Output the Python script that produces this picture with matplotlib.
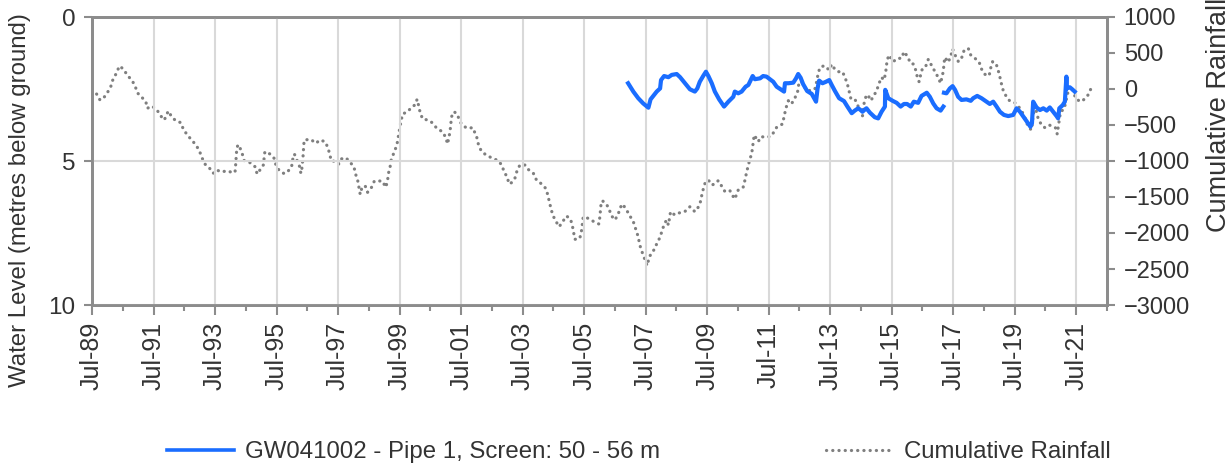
import matplotlib
matplotlib.use("Agg")
import matplotlib.pyplot as plt
import numpy as np
from matplotlib.lines import Line2D
from matplotlib.ticker import MultipleLocator, FixedLocator

plt.rcParams['font.family'] = ['Liberation Sans', 'DejaVu Sans']

# ---------------- data ----------------
tick_years = [1989.5 + 2 * i for i in range(17)]
tick_labels = ["Jul-89", "Jul-91", "Jul-93", "Jul-95", "Jul-97", "Jul-99", "Jul-01", "Jul-03",
               "Jul-05", "Jul-07", "Jul-09", "Jul-11", "Jul-13", "Jul-15", "Jul-17", "Jul-19", "Jul-21"]

rain_year = [1989.65, 1989.76, 1989.87, 1990.00, 1990.11, 1990.16, 1990.30, 1990.39, 1990.52, 1990.65,
             1990.79, 1990.90, 1990.97, 1991.12, 1991.25, 1991.30, 1991.44, 1991.60, 1991.73, 1991.85,
             1991.98, 1992.09, 1992.22, 1992.39, 1992.47, 1992.60, 1992.74, 1992.88, 1992.99, 1993.07,
             1993.17, 1993.31, 1993.44, 1993.55, 1993.72, 1993.88, 1994.04, 1994.15, 1994.17, 1994.20,
             1994.24, 1994.31, 1994.39, 1994.45, 1994.64, 1994.80, 1994.87, 1994.98, 1995.07, 1995.12,
             1995.29, 1995.42, 1995.48, 1995.59, 1995.75, 1995.86, 1995.99, 1996.02, 1996.08, 1996.17,
             1996.26, 1996.29, 1996.33, 1996.35, 1996.37, 1996.38, 1996.40, 1996.61, 1996.78, 1996.91,
             1997.08, 1997.17, 1997.23, 1997.28, 1997.43, 1997.52, 1997.60, 1997.75, 1997.89, 1998.02,
             1998.07, 1998.14, 1998.18, 1998.22, 1998.27, 1998.38, 1998.46, 1998.59, 1998.68, 1998.94,
             1999.05, 1999.11, 1999.13, 1999.19, 1999.22, 1999.30, 1999.38, 1999.44, 1999.47, 1999.51,
             1999.55, 1999.60, 1999.76, 1999.91, 2000.00, 2000.07, 2000.12, 2000.17, 2000.25, 2000.43,
             2000.56, 2000.71, 2000.89, 2001.00, 2001.06, 2001.14, 2001.19, 2001.27, 2001.38, 2001.44,
             2001.53, 2001.70, 2001.88, 2002.01, 2002.06, 2002.15, 2002.31, 2002.46, 2002.60, 2002.71,
             2002.82, 2002.90, 2003.00, 2003.06, 2003.14, 2003.25, 2003.31, 2003.41, 2003.58, 2003.68,
             2003.85, 2003.95, 2004.09, 2004.25, 2004.31, 2004.37, 2004.42, 2004.48, 2004.57, 2004.69,
             2004.80, 2004.93, 2005.06, 2005.12, 2005.20, 2005.36, 2005.42, 2005.47, 2005.63, 2005.82,
             2005.98, 2006.01, 2006.05, 2006.09, 2006.20, 2006.31, 2006.37, 2006.50, 2006.61, 2006.66,
             2006.75, 2006.88, 2006.99, 2007.10, 2007.17, 2007.24, 2007.34, 2007.42, 2007.50, 2007.55,
             2007.62, 2007.72, 2007.80, 2007.88, 2007.97, 2008.04, 2008.11, 2008.18, 2008.24, 2008.31,
             2008.45, 2008.61, 2008.77, 2008.94, 2009.10, 2009.19, 2009.27, 2009.35, 2009.43, 2009.54,
             2009.65, 2009.75, 2009.86, 2009.97, 2010.08, 2010.24, 2010.35, 2010.40, 2010.51, 2010.67,
             2010.73, 2010.78, 2010.84, 2010.89, 2010.95, 2010.98, 2011.03, 2011.16, 2011.25, 2011.43,
             2011.59, 2011.76, 2011.95, 2012.00, 2012.06, 2012.14, 2012.24, 2012.35, 2012.46, 2012.48,
             2012.57, 2012.66, 2012.75, 2012.89, 2013.00, 2013.06, 2013.11, 2013.17, 2013.31, 2013.38,
             2013.47, 2013.55, 2013.60, 2013.76, 2013.90, 2013.98, 2014.06, 2014.11, 2014.17, 2014.28,
             2014.38, 2014.44, 2014.52, 2014.55, 2014.61, 2014.68, 2014.73, 2014.82, 2014.90, 2015.01,
             2015.09, 2015.17, 2015.25, 2015.30, 2015.33, 2015.35, 2015.42, 2015.55, 2015.68, 2015.82,
             2015.90, 2016.02, 2016.11, 2016.20, 2016.28, 2016.33, 2016.39, 2016.44, 2016.50, 2016.61,
             2016.69, 2016.80, 2016.91, 2017.01, 2017.09, 2017.18, 2017.20, 2017.23, 2017.34, 2017.43,
             2017.48, 2017.56, 2017.67, 2017.78, 2017.85, 2017.99, 2018.07, 2018.21, 2018.35, 2018.42,
             2018.53, 2018.67, 2018.71, 2018.78, 2018.89, 2018.96, 2019.02, 2019.07, 2019.13, 2019.23,
             2019.34, 2019.50, 2019.61, 2019.69, 2019.78, 2019.86, 2019.94, 2020.05, 2020.10, 2020.16,
             2020.26, 2020.37, 2020.48, 2020.62, 2020.81, 2020.86, 2020.88, 2020.94, 2020.99, 2021.11,
             2021.16, 2021.22, 2021.24, 2021.35, 2021.42, 2021.49, 2021.65, 2021.78, 2021.91, 2022.00]

rain_mm = [-70, -153, -129, -51, 32, 111, 226, 319, 278, 190,
           125, 46, -51, -115, -176, -268, -236, -282, -371, -431,
           -306, -385, -440, -468, -560, -639, -708, -778, -857, -949,
           -1042, -1093, -1171, -1125, -1153, -1135, -1157, -1157, -1056, -871,
           -774, -815, -907, -996, -1024, -1079, -1181, -1111, -1056, -871,
           -903, -962, -1056, -1135, -1176, -1149, -1079, -986, -903, -996,
           -1088, -1171, -1088, -986, -893, -801, -708, -699, -754, -708,
           -732, -815, -907, -1000, -1004, -1042, -972, -954, -1014, -1088,
           -1181, -1274, -1371, -1463, -1379, -1343, -1435, -1365, -1278, -1278,
           -1365, -1278, -1185, -1088, -996, -903, -815, -722, -629, -537,
           -440, -347, -315, -246, -222, -143, -232, -329, -417, -431,
           -468, -546, -593, -671, -764, -593, -385, -315, -351, -431,
           -500, -546, -537, -671, -764, -857, -917, -949, -976, -996,
           -1056, -1149, -1226, -1319, -1301, -1240, -1149, -1056, -1056, -1116,
           -1171, -1264, -1310, -1379, -1458, -1565, -1657, -1750, -1829, -1913,
           -1843, -1764, -1810, -1903, -2088, -2074, -1958, -1774, -1796, -1843,
           -1875, -1782, -1597, -1551, -1588, -1657, -1750, -1819, -1740, -1657,
           -1597, -1681, -1764, -1843, -1935, -2028, -2213, -2306, -2399, -2454,
           -2329, -2268, -2213, -2129, -2060, -1958, -1875, -1819, -1889, -1704,
           -1750, -1718, -1704, -1635, -1704, -1657, -1588, -1426, -1310, -1264,
           -1333, -1319, -1273, -1347, -1426, -1412, -1496, -1528, -1403, -1365,
           -1264, -1162, -1056, -976, -893, -801, -639, -732, -662, -671,
           -653, -532, -486, -385, -268, -162, -208, -129, -14, 87,
           101, 32, -28, -14, -4, 101, 218, 301, 324, 296,
           264, 343, 301, 240, 240, 162, 69, -24, -129, -129,
           -199, -292, -301, -375, -176, -83, -83, -162, -107, -24,
           79, 162, 125, 218, 319, 403, 472, 379, 426, 426,
           518, 449, 357, 347, 264, 171, 101, 194, 287, 319,
           412, 324, 240, 162, 79, 250, 357, 440, 371, 472,
           556, 472, 379, 440, 532, 565, 472, 426, 365, 278,
           204, 185, 278, 379, 357, 264, 162, 69, -28, -107,
           -167, -190, -236, -282, -347, -431, -532, -569, -361, -236,
           -407, -500, -537, -500, -532, -560, -625, -454, -315, -278,
           -176, -74, 26, 26, -56, -139, -176, -137, -69, 32]

level_year = [2006.93, 2007.10, 2007.26, 2007.42, 2007.59, 2007.66, 2007.75, 2007.86, 2007.97, 2008.00,
              2008.10, 2008.24, 2008.35, 2008.51, 2008.62, 2008.78, 2008.94, 2009.10, 2009.18, 2009.26,
              2009.37, 2009.46, 2009.54, 2009.65, 2009.75, 2009.89, 2010.05, 2010.19, 2010.35, 2010.40,
              2010.51, 2010.62, 2010.75, 2010.84, 2010.98, 2011.05, 2011.22, 2011.32, 2011.43, 2011.60,
              2011.65, 2011.76, 2011.87, 2012.00, 2012.03, 2012.14, 2012.30, 2012.39, 2012.46, 2012.54,
              2012.62, 2012.75, 2012.90, 2013.04, 2013.09, 2013.14, 2013.25, 2013.36, 2013.47, 2013.55,
              2013.65, 2013.79, 2013.95, 2014.06, 2014.20, 2014.30, 2014.41, 2014.49, 2014.55, 2014.63,
              2014.68, 2014.79, 2014.95, 2015.06, 2015.17, 2015.28, 2015.29, 2015.39, 2015.53, 2015.66,
              2015.79, 2015.90, 2016.00, 2016.12, 2016.22, 2016.36, 2016.47, 2016.64, 2016.74, 2016.85,
              2016.96, 2017.09, 2017.18, 2017.19, 2017.20, 2017.28, 2017.39, 2017.48, 2017.56, 2017.66,
              2017.77, 2017.93, 2018.07, 2018.15, 2018.28, 2018.42, 2018.58, 2018.69, 2018.80, 2018.91,
              2019.02, 2019.15, 2019.29, 2019.45, 2019.56, 2019.67, 2019.77, 2019.90, 2020.01, 2020.06,
              2020.10, 2020.21, 2020.32, 2020.43, 2020.54, 2020.64, 2020.75, 2020.86, 2020.91, 2020.95,
              2021.06, 2021.13, 2021.18, 2021.20, 2021.29, 2021.37, 2021.45]

level_m = [2.30, 2.59, 2.82, 3.00, 3.15, 2.86, 2.74, 2.59, 2.48, 2.19,
           2.05, 2.09, 2.01, 1.98, 2.09, 2.30, 2.51, 2.59, 2.48, 2.25,
           2.05, 1.90, 2.05, 2.30, 2.59, 2.86, 3.11, 2.94, 2.77, 2.59,
           2.65, 2.59, 2.42, 2.36, 2.05, 2.16, 2.13, 2.05, 2.07, 2.21,
           2.25, 2.42, 2.50, 2.59, 2.30, 2.30, 2.28, 2.13, 1.98, 2.11,
           2.33, 2.57, 2.67, 2.94, 2.48, 2.21, 2.30, 2.25, 2.19, 2.36,
           2.56, 2.82, 2.92, 3.11, 3.34, 3.25, 3.17, 3.23, 3.29, 3.21,
           3.17, 3.32, 3.48, 3.52, 3.29, 3.11, 2.53, 2.82, 2.91, 2.98,
           3.11, 3.02, 3.02, 3.11, 2.94, 2.98, 2.74, 2.63, 2.77, 3.00,
           3.17, 3.25, 3.11, np.nan, 2.63, 2.65, 2.48, 2.40, 2.53, 2.77,
           2.88, 2.86, 2.91, 2.82, 2.74, 2.82, 2.94, 3.02, 2.94, 3.11,
           3.29, 3.40, 3.44, 3.40, 3.17, 3.29, 3.44, 3.64, 3.81, 3.69,
           2.94, 3.14, 3.23, 3.17, 3.25, 3.14, 3.29, 3.44, 3.52, 3.17,
           3.06, 2.94, 2.07, 2.48, 2.44, 2.51, 2.59]

level_label = "GW041002 - Pipe 1, Screen: 50 - 56 m"
rain_label = "Cumulative Rainfall"

# ---------------- styling ----------------
TXT = '#333333'
SPINE = '#8c8c8c'
GRID = '#d9d9d9'
BLUE = '#1a6dff'
GRAY = '#7f7f7f'
FS = 17.3

fig = plt.figure(figsize=(12.31, 4.68), dpi=100)
ax = fig.add_axes([92 / 1231, 1 - 305 / 468, (1107 - 92) / 1231, (305 - 17) / 468])
ax2 = ax.twinx()

# left axis: water level (inverted)
ax.set_ylim(10, 0)
ax.set_xlim(1989.5, 2022.5)
ax.yaxis.set_major_locator(FixedLocator([0, 5, 10]))
ax.set_xticks(tick_years)
ax.set_xticklabels(tick_labels, rotation=90, fontsize=18, color=TXT)
ax.xaxis.set_minor_locator(FixedLocator([1990.5 + 2 * i for i in range(17)]))
ax.grid(True, which='major', axis='both', color=GRID, linewidth=1.5)
ax.set_axisbelow(True)
ax.tick_params(axis='y', labelsize=17.5, colors=SPINE, labelcolor=TXT, length=6, width=1.5, pad=6)
ax.tick_params(axis='x', which='major', colors=SPINE, labelcolor=TXT, length=7, width=1.5, pad=5)
ax.tick_params(axis='x', which='minor', colors=SPINE, length=4, width=1.5)
ax.set_ylabel("Water Level (metres below ground)", fontsize=FS, color=TXT)
ax.yaxis.set_label_coords(-0.060, 0.365)

# right axis: cumulative rainfall
ax2.set_ylim(-3000, 1000)
ax2.yaxis.set_major_locator(MultipleLocator(500))
ax2.tick_params(axis='y', labelsize=17, colors=SPINE, labelcolor=TXT, length=6, width=1.5, pad=6)
ax2.set_ylabel("Cumulative Rainfall", fontsize=19.5, color=TXT)
ax2.yaxis.set_label_coords(1.0975, 0.66)

for a in (ax, ax2):
    for s in a.spines.values():
        s.set_color(SPINE)
        s.set_linewidth(2)

# data
DOT = (0, (0.05, 1.9))
ax2.plot(rain_year, rain_mm, color=GRAY, linewidth=2.3, linestyle=DOT,
         dash_capstyle='round', zorder=2)
ax.plot(level_year, level_m, color=BLUE, linewidth=3.0, solid_joinstyle='round', zorder=3)
ax.set_zorder(ax2.get_zorder() + 1)
ax.patch.set_visible(False)

# legend
handles = [Line2D([], [], color=BLUE, linewidth=2.6),
           Line2D([], [], color=GRAY, linewidth=2.3, linestyle=DOT, dash_capstyle='round')]
fig.legend(handles, [level_label, rain_label], loc='center', bbox_to_anchor=(0.519, 1 - 452 / 468),
           ncol=2, frameon=False, fontsize=FS, handlelength=2.8, handletextpad=0.45,
           columnspacing=6.9, labelcolor=TXT)

fig.savefig("out.png", dpi=100)
